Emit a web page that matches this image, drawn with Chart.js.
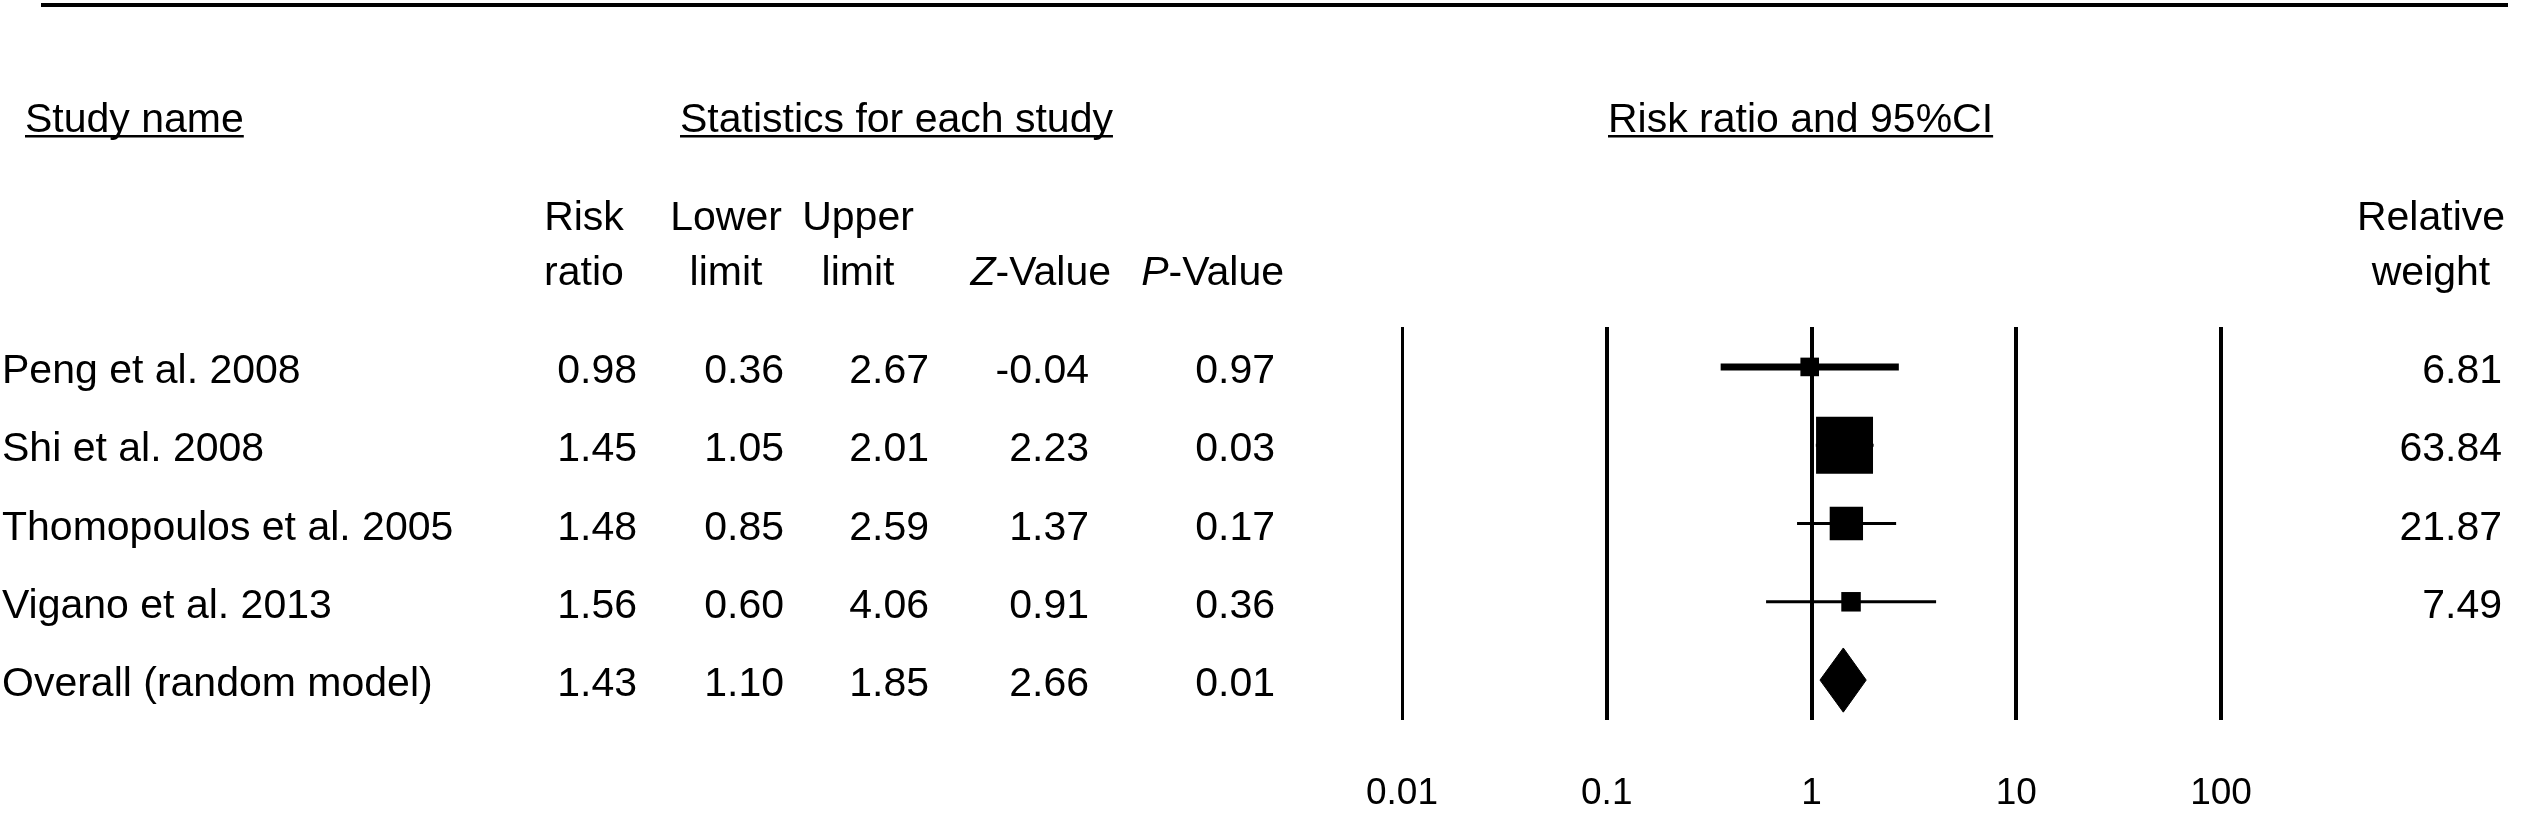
<!DOCTYPE html>
<html>
<head>
<meta charset="utf-8">
<title>Risk ratio forest plot</title>
<script src="https://cdn.jsdelivr.net/npm/chart.js@4.4.1/dist/chart.umd.min.js"></script>
<style>
    html, body { margin: 0; padding: 0; background: #fff; }
    #wrap { position: relative; width: 2528px; height: 817px; }
</style>
</head>
<body>
<div id="wrap"><canvas id="forest"></canvas></div>
<script>
    // Study rows (last row is the pooled estimate)
    var studies = ['Peng et al. 2008', 'Shi et al. 2008', 'Thomopoulos et al. 2005', 'Vigano et al. 2013', 'Overall (random model)'];
    var riskRatio = [0.98, 1.45, 1.48, 1.56, 1.43];
    var lowerLimit = [0.36, 1.05, 0.85, 0.60, 1.10];
    var upperLimit = [2.67, 2.01, 2.59, 4.06, 1.85];
    var zValue = [-0.04, 2.23, 1.37, 0.91, 2.66];
    var pValue = [0.97, 0.03, 0.17, 0.36, 0.01];
    var relWeight = [6.81, 63.84, 21.87, 7.49];

    // x axis ticks
    var tickValues = [0.01, 0.1, 1, 10, 100];
    var tickLabels = ['0.01', '0.1', '1', '10', '100'];

    var FAMILY = '"Liberation Sans", Arial, Helvetica, sans-serif';
    var FONT = '41px ' + FAMILY;
    var overall = studies.length - 1;

    function underlined(ctx, text, x, y) {
        ctx.textAlign = 'left';
        ctx.fillText(text, x, y);
        ctx.fillRect(x, y + 3, ctx.measureText(text).width, 2.5);
    }

    // "Z-Value" / "P-Value" with an italic first letter, right aligned
    function italicLead(ctx, lead, rest, right, y) {
        ctx.font = 'italic ' + FONT;
        var w1 = ctx.measureText(lead).width;
        ctx.font = FONT;
        var w2 = ctx.measureText(rest).width;
        ctx.textAlign = 'left';
        ctx.font = 'italic ' + FONT;
        ctx.fillText(lead, right - w1 - w2, y);
        ctx.font = FONT;
        ctx.fillText(rest, right - w2, y);
    }

    var tablePlugin = {
        id: 'studyTable',
        afterDraw: function(chart) {
            var ctx = chart.ctx;
            var yScale = chart.scales.y;
            ctx.save();
            ctx.fillStyle = '#000';

            // rule across the top
            ctx.fillRect(41, 3, 2467, 4);

            ctx.font = FONT;
            ctx.textBaseline = 'alphabetic';
            underlined(ctx, 'Study name', 25, 132);
            underlined(ctx, 'Statistics for each study', 680, 132);
            underlined(ctx, 'Risk ratio and 95%CI', 1608, 132);

            // column headers
            ctx.textAlign = 'center';
            ctx.fillText('Risk', 584, 230);
            ctx.fillText('ratio', 584, 285);
            ctx.fillText('Lower', 726, 230);
            ctx.fillText('limit', 726, 285);
            ctx.fillText('Upper', 858, 230);
            ctx.fillText('limit', 858, 285);
            ctx.fillText('Relative', 2431, 230);
            ctx.fillText('weight', 2431, 285);
            italicLead(ctx, 'Z', '-Value', 1111, 285);
            italicLead(ctx, 'P', '-Value', 1284, 285);

            // one line per study
            studies.forEach(function(name, i) {
                var base = yScale.getPixelForValue(i) + 16;
                ctx.font = FONT;
                ctx.textAlign = 'left';
                ctx.fillText(name, 2, base);
                ctx.textAlign = 'right';
                ctx.fillText(riskRatio[i].toFixed(2), 637, base);
                ctx.fillText(lowerLimit[i].toFixed(2), 784, base);
                ctx.fillText(upperLimit[i].toFixed(2), 929, base);
                ctx.fillText(zValue[i].toFixed(2), 1089, base);
                ctx.fillText(pValue[i].toFixed(2), 1275, base);
                if (i < relWeight.length) {
                    ctx.fillText(relWeight[i].toFixed(2), 2502, base);
                }
            });
            ctx.restore();
        }
    };

    var datasets = [];

    // confidence interval whiskers
    relWeight.forEach(function(w, i) {
        datasets.push({
            type: 'line',
            data: [{ x: lowerLimit[i], y: i }, { x: upperLimit[i], y: i }],
            borderColor: '#000',
            borderWidth: i === 0 ? 7 : 3,
            pointRadius: 0,
            borderCapStyle: 'butt',
            clip: false
        });
    });

    // point estimates, box area scaled by relative weight
    datasets.push({
        type: 'scatter',
        data: relWeight.map(function(w, i) { return { x: riskRatio[i], y: i }; }),
        pointStyle: 'rect',
        backgroundColor: '#000',
        borderWidth: 0,
        pointRadius: function(c) {
            return 5.04 * Math.sqrt(relWeight[c.dataIndex]);
        },
        clip: false
    });

    // pooled estimate diamond
    datasets.push({
        type: 'line',
        data: [
            { x: lowerLimit[overall], y: overall },
            { x: riskRatio[overall], y: overall - 0.41 },
            { x: upperLimit[overall], y: overall },
            { x: riskRatio[overall], y: overall + 0.41 },
            { x: lowerLimit[overall], y: overall }
        ],
        borderColor: '#000',
        backgroundColor: '#000',
        borderWidth: 1,
        fill: 'shape',
        tension: 0,
        pointRadius: 0,
        clip: false
    });

    Chart.defaults.font.family = FAMILY;
    Chart.defaults.color = '#000';

    new Chart(document.getElementById('forest'), {
        type: 'scatter',
        data: { datasets: datasets },
        options: {
            responsive: true,
            maintainAspectRatio: false,
            animation: false,
            events: [],
            layout: {
                padding: { left: 1402, right: 307, top: 327, bottom: 0 }
            },
            plugins: {
                legend: { display: false },
                tooltip: { enabled: false }
            },
            scales: {
                x: {
                    type: 'logarithmic',
                    min: tickValues[0],
                    max: tickValues[tickValues.length - 1],
                    afterBuildTicks: function(axis) {
                        axis.ticks = tickValues.map(function(v) { return { value: v }; });
                    },
                    // keep the plot area ending where the reference lines stop
                    afterFit: function(axis) {
                        axis.height = 97;
                    },
                    border: { display: false },
                    grid: {
                        color: '#000',
                        drawTicks: false,
                        lineWidth: function(c) { return c.index === 0 ? 3 : 4; }
                    },
                    ticks: {
                        padding: 52,
                        maxRotation: 0,
                        autoSkip: false,
                        font: { size: 37 },
                        color: '#000',
                        callback: function(value, index) { return tickLabels[index]; }
                    }
                },
                y: {
                    type: 'linear',
                    reverse: true,
                    min: -0.51,
                    max: 4.51,
                    display: false
                }
            }
        },
        plugins: [tablePlugin]
    });
</script>
</body>
</html>
